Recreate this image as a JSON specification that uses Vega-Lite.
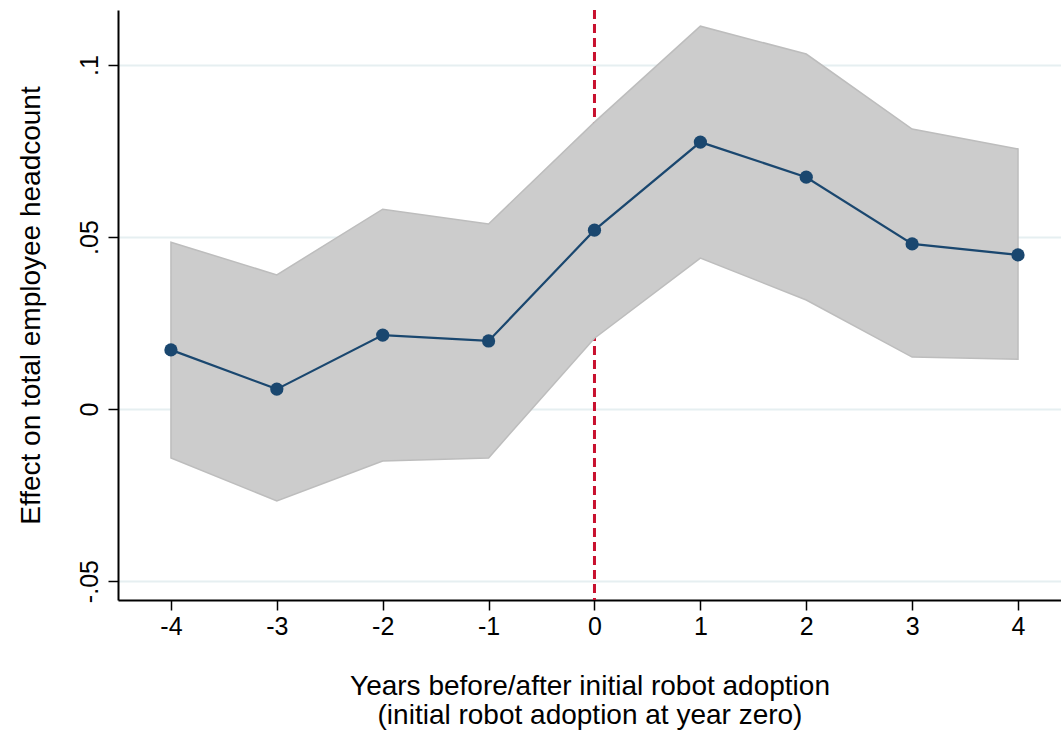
{
  "$schema": "https://vega.github.io/schema/vega-lite/v6.json",
  "width": 943,
  "height": 590,
  "autosize": {"type": "none"},
  "padding": {"left": 118, "top": 10, "right": 0, "bottom": 134},
  "background": "white",
  "config": {
    "view": {"stroke": null},
    "font": "Liberation Sans"
  },
  "data": {
    "values": [
      {"year": -4, "est": 0.0172, "lo": -0.0142, "hi": 0.0485},
      {"year": -3, "est": 0.0058, "lo": -0.0267, "hi": 0.0390},
      {"year": -2, "est": 0.0215, "lo": -0.0151, "hi": 0.0581},
      {"year": -1, "est": 0.0198, "lo": -0.0142, "hi": 0.0538},
      {"year": 0, "est": 0.0520, "lo": 0.0206, "hi": 0.0834},
      {"year": 1, "est": 0.0776, "lo": 0.0439, "hi": 0.1113},
      {"year": 2, "est": 0.0674, "lo": 0.0317, "hi": 0.1032},
      {"year": 3, "est": 0.0480, "lo": 0.0151, "hi": 0.0814},
      {"year": 4, "est": 0.0448, "lo": 0.0145, "hi": 0.0756}
    ]
  },
  "encoding": {
    "x": {
      "field": "year",
      "type": "quantitative",
      "scale": {"domain": [-4.5, 4.406], "nice": false, "zero": false},
      "axis": {
        "values": [-4, -3, -2, -1, 0, 1, 2, 3, 4],
        "labelExpr": "datum.value < 0 ? '-' + format(-datum.value, 'd') : format(datum.value, 'd')",
        "grid": false,
        "domainColor": "black",
        "domainWidth": 2,
        "tickColor": "black",
        "tickWidth": 1.5,
        "tickSize": 10,
        "labelFontSize": 25,
        "labelColor": "black",
        "labelPadding": 4,
        "title": ["Years before/after initial robot adoption", "(initial robot adoption at year zero)"],
        "titleFontSize": 28,
        "titleFontWeight": "normal",
        "titleColor": "black",
        "titlePadding": 33,
        "titleLineHeight": 29
      }
    }
  },
  "layer": [
    {
      "data": {"values": [{"x0": 0}]},
      "mark": {"type": "rule", "color": "#c8102e", "strokeWidth": 3, "strokeDash": [9, 5]},
      "encoding": {"x": {"field": "x0", "type": "quantitative"}}
    },
    {
      "mark": {"type": "area", "color": "#cccccc", "opacity": 1, "stroke": "#bdbdbd", "strokeWidth": 1.5},
      "encoding": {
        "y": {
          "field": "hi",
          "type": "quantitative",
          "scale": {"domain": [-0.0555, 0.116], "nice": false, "zero": false},
          "axis": {
            "values": [-0.05, 0, 0.05, 0.1],
            "labelExpr": "datum.value == 0 ? '0' : (datum.value < 0 ? '-' : '') + replace(format(abs(datum.value), '.2~f'), '0.', '.')",
            "grid": true,
            "gridColor": "#e6eff1",
            "gridWidth": 2,
            "domainColor": "black",
            "domainWidth": 2,
            "tickColor": "black",
            "tickWidth": 1.5,
            "tickSize": 10,
            "labelFontSize": 25,
            "labelColor": "black",
            "labelAngle": 270,
            "labelAlign": "center",
            "labelBaseline": "bottom",
            "labelPadding": 6,
            "title": "Effect on total employee headcount",
            "titleFontSize": 28,
            "titleFontWeight": "normal",
            "titleColor": "black",
            "titlePadding": 32
          }
        },
        "y2": {"field": "lo"}
      }
    },
    {
      "mark": {"type": "line", "color": "#1a476f", "strokeWidth": 2.2},
      "encoding": {"y": {"field": "est", "type": "quantitative"}}
    },
    {
      "mark": {"type": "point", "filled": true, "color": "#1a476f", "opacity": 1, "size": 175},
      "encoding": {"y": {"field": "est", "type": "quantitative"}}
    }
  ]
}
